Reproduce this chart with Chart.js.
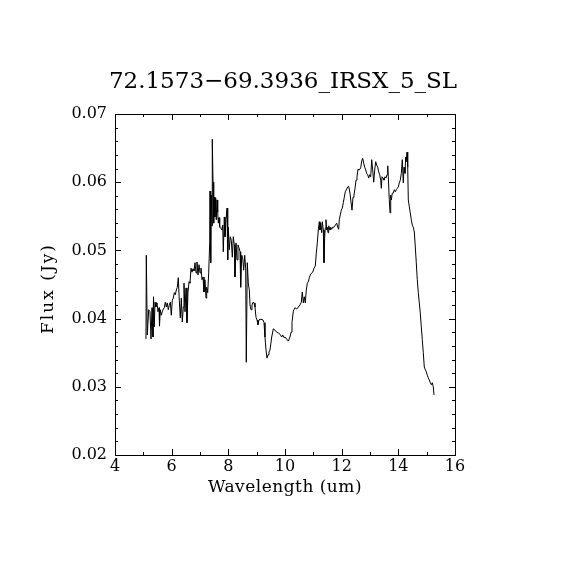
<!DOCTYPE html>
<html>
<head>
<meta charset="utf-8">
<script src="https://cdn.jsdelivr.net/npm/chart.js@4"></script>
<style>
  html, body { margin: 0; padding: 0; background: #fff; }
  #wrap { width: 570px; height: 570px; }
</style>
</head>
<body>
<div id="wrap"><canvas id="spec" width="570" height="570"></canvas></div>
<script>
// IRS SL spectrum
const titleText = '72.1573\u221269.3936_IRSX_5_SL';
const xLabel = 'Wavelength (um)';
const yLabel = 'Flux (Jy)';

const xTicks = [4, 6, 8, 10, 12, 14, 16];
const yTicks = [0.02, 0.03, 0.04, 0.05, 0.06, 0.07];

const wavelength = [
  5.094, 5.105, 5.140, 5.189, 5.235, 5.271, 5.306, 5.341, 5.359, 5.387, 5.412, 5.447, 5.482, 5.518, 5.553, 5.571,
  5.599, 5.634, 5.669, 5.705, 5.740, 5.775, 5.811, 5.846, 5.881, 5.916, 5.952, 5.987, 6.022, 6.058, 6.093, 6.128,
  6.164, 6.199, 6.234, 6.269, 6.305, 6.340, 6.375, 6.411, 6.435, 6.471, 6.506, 6.541, 6.576, 6.612, 6.647, 6.682,
  6.718, 6.753, 6.788, 6.824, 6.859, 6.894, 6.929, 6.965, 7.000, 7.035, 7.071, 7.106, 7.141, 7.176, 7.212, 7.236,
  7.272, 7.307, 7.342,
  7.353, 7.378, 7.399, 7.424, 7.434, 7.459, 7.484, 7.505, 7.529, 7.554, 7.575, 7.600, 7.625, 7.646, 7.671, 7.695,
  7.731, 7.766, 7.801, 7.822, 7.858, 7.882, 7.918, 7.953, 7.978, 7.999, 8.034, 8.069, 8.105, 8.140, 8.175, 8.211,
  8.235, 8.271, 8.306, 8.341, 8.376, 8.412, 8.436, 8.472, 8.507, 8.542, 8.578, 8.613, 8.634, 8.669, 8.705, 8.740,
  8.765, 8.800, 8.835, 8.871, 8.906, 8.941, 8.976, 9.012, 9.047, 9.082, 9.118, 9.153, 9.188, 9.224, 9.259, 9.294,
  9.329, 9.365, 9.400, 9.435, 9.471,
  9.531, 9.587, 9.647, 9.707, 9.764, 9.824, 9.883, 9.919, 9.965, 10.000, 10.060, 10.116, 10.176, 10.212, 10.247, 10.293,
  10.353, 10.413, 10.469, 10.529, 10.575, 10.611, 10.646, 10.681, 10.716, 10.752, 10.787, 10.822, 10.858, 10.893, 10.942, 10.978,
  11.024, 11.069, 11.105, 11.140, 11.175, 11.211, 11.235, 11.260, 11.295, 11.316, 11.352, 11.376, 11.401, 11.422, 11.447, 11.472,
  11.493, 11.518, 11.542, 11.564, 11.588, 11.613, 11.648, 11.684, 11.729, 11.775, 11.825, 11.860, 11.895, 11.916, 11.952, 11.987,
  12.022, 12.058, 12.093, 12.128, 12.178, 12.213, 12.248, 12.294, 12.329, 12.365, 12.400, 12.435, 12.471, 12.506, 12.541, 12.576,
  12.622, 12.672, 12.707, 12.742, 12.778, 12.813, 12.848, 12.884, 12.919, 12.954, 12.989, 13.025, 13.060, 13.095, 13.131, 13.166,
  13.201, 13.236, 13.272, 13.307, 13.342, 13.378, 13.399, 13.424, 13.459, 13.494, 13.529, 13.565, 13.600, 13.625, 13.646, 13.681,
  13.706, 13.731, 13.752, 13.787, 13.822, 13.858, 13.893, 13.928, 13.964, 13.999, 14.034, 14.069, 14.105, 14.140, 14.175, 14.200,
  14.235, 14.260, 14.281, 14.306, 14.331, 14.352, 14.387, 14.422, 14.458, 14.493, 14.528, 14.564, 14.599, 14.634, 14.669, 14.705,
  14.740, 14.775, 14.811, 14.846, 14.881, 14.916, 14.952, 14.987, 15.022, 15.058, 15.093, 15.128, 15.164, 15.199, 15.234, 15.259
];

const flux = [
  0.0370, 0.0493, 0.0376, 0.0413, 0.0410, 0.0370, 0.0416, 0.0373, 0.0432, 0.0388, 0.0424, 0.0417, 0.0423, 0.0410, 0.0416, 0.0389,
  0.0413, 0.0405, 0.0410, 0.0414, 0.0416, 0.0424, 0.0417, 0.0423, 0.0413, 0.0420, 0.0424, 0.0405, 0.0427, 0.0430, 0.0438, 0.0435,
  0.0442, 0.0446, 0.0460, 0.0427, 0.0401, 0.0430, 0.0395, 0.0417, 0.0452, 0.0410, 0.0445, 0.0394, 0.0438, 0.0454, 0.0452, 0.0474,
  0.0468, 0.0473, 0.0470, 0.0482, 0.0467, 0.0483, 0.0464, 0.0479, 0.0467, 0.0474, 0.0457, 0.0461, 0.0439, 0.0457, 0.0430, 0.0446,
  0.0438, 0.0467, 0.0511,
  0.0587, 0.0482, 0.0581, 0.0536, 0.0663, 0.0600, 0.0540, 0.0578, 0.0549, 0.0577, 0.0545, 0.0574, 0.0556, 0.0540, 0.0548, 0.0534,
  0.0533, 0.0530, 0.0537, 0.0498, 0.0549, 0.0520, 0.0545, 0.0562, 0.0486, 0.0534, 0.0501, 0.0520, 0.0515, 0.0490, 0.0520, 0.0508,
  0.0461, 0.0511, 0.0486, 0.0508, 0.0504, 0.0498, 0.0446, 0.0493, 0.0489, 0.0471, 0.0493, 0.0474, 0.0336, 0.0482, 0.0452, 0.0442,
  0.0420, 0.0413, 0.0420, 0.0424, 0.0423, 0.0417, 0.0402, 0.0398, 0.0391, 0.0398, 0.0399, 0.0399, 0.0399, 0.0398, 0.0394, 0.0373,
  0.0354, 0.0342, 0.0347, 0.0351, 0.0354,
  0.0373, 0.0385, 0.0383, 0.0380, 0.0379, 0.0377, 0.0373, 0.0376, 0.0372, 0.0373, 0.0370, 0.0367, 0.0373, 0.0380, 0.0394, 0.0411,
  0.0416, 0.0414, 0.0417, 0.0420, 0.0424, 0.0439, 0.0423, 0.0432, 0.0423, 0.0442, 0.0452, 0.0454, 0.0460, 0.0464, 0.0467, 0.0468,
  0.0474, 0.0477, 0.0496, 0.0511, 0.0530, 0.0542, 0.0530, 0.0540, 0.0526, 0.0542, 0.0530, 0.0482, 0.0520, 0.0533, 0.0545, 0.0530,
  0.0534, 0.0526, 0.0536, 0.0533, 0.0530, 0.0534, 0.0531, 0.0534, 0.0534, 0.0537, 0.0540, 0.0534, 0.0531, 0.0545, 0.0552, 0.0559,
  0.0562, 0.0570, 0.0578, 0.0586, 0.0590, 0.0593, 0.0594, 0.0584, 0.0571, 0.0559, 0.0578, 0.0581, 0.0591, 0.0603, 0.0608, 0.0619,
  0.0618, 0.0621, 0.0631, 0.0635, 0.0628, 0.0622, 0.0618, 0.0613, 0.0611, 0.0606, 0.0611, 0.0608, 0.0633, 0.0618, 0.0600, 0.0618,
  0.0630, 0.0625, 0.0622, 0.0615, 0.0611, 0.0603, 0.0591, 0.0608, 0.0606, 0.0603, 0.0608, 0.0606, 0.0611, 0.0624, 0.0608, 0.0574,
  0.0555, 0.0581, 0.0574, 0.0584, 0.0584, 0.0589, 0.0586, 0.0589, 0.0591, 0.0593, 0.0599, 0.0603, 0.0613, 0.0633, 0.0599, 0.0622,
  0.0613, 0.0637, 0.0630, 0.0644, 0.0622, 0.0574, 0.0564, 0.0555, 0.0545, 0.0537, 0.0534, 0.0527, 0.0505, 0.0482, 0.0457, 0.0438,
  0.0423, 0.0408, 0.0388, 0.0369, 0.0350, 0.0329, 0.0325, 0.0322, 0.0317, 0.0313, 0.0310, 0.0306, 0.0303, 0.0306, 0.0300, 0.0288
];

const FONT = 'DejaVu Serif';

// box + inward ticks on all four sides, plus title and axis captions
const idlFrame = {
  id: 'idlFrame',
  afterDatasetsDraw(chart) {
    const { ctx, chartArea: a, scales: { x, y } } = chart;
    ctx.save();
    ctx.strokeStyle = '#000';
    ctx.lineWidth = 1;
    ctx.strokeRect(a.left + 0.5, a.top + 0.5, a.right - a.left, a.bottom - a.top);

    ctx.beginPath();
    for (let v = xTicks[0]; v <= xTicks[xTicks.length - 1] + 1e-9; v += 1) {
      const px = Math.round(x.getPixelForValue(v)) + 0.5;
      const len = xTicks.includes(v) ? 6 : 3;
      ctx.moveTo(px, a.bottom); ctx.lineTo(px, a.bottom - len);
      ctx.moveTo(px, a.top); ctx.lineTo(px, a.top + len);
    }
    for (let i = 0; i <= 25; i++) {
      const v = yTicks[0] + i * 0.002;
      const py = Math.round(y.getPixelForValue(v)) + 0.5;
      const len = i % 5 === 0 ? 6 : 3;
      ctx.moveTo(a.left, py); ctx.lineTo(a.left + len, py);
      ctx.moveTo(a.right, py); ctx.lineTo(a.right - len, py);
    }
    ctx.stroke();

    ctx.fillStyle = '#000';
    ctx.textAlign = 'center';
    ctx.textBaseline = 'alphabetic';
    ctx.font = `23px "${FONT}"`;
    ctx.fillText(titleText, (a.left + a.right) / 2 - 2, 88);

    ctx.font = `17px "${FONT}"`;
    ctx.letterSpacing = '0.5px';
    ctx.fillText(xLabel, (a.left + a.right) / 2, 492);

    ctx.letterSpacing = '2px';
    ctx.translate(53, (a.top + a.bottom) / 2 + 4);
    ctx.rotate(-Math.PI / 2);
    ctx.fillText(yLabel, 0, 0);
    ctx.restore();
  }
};

const points = wavelength.map((w, i) => ({ x: w, y: flux[i] }));

new Chart(document.getElementById('spec'), {
  type: 'line',
  data: {
    datasets: [{
      data: points,
      borderColor: '#000',
      borderWidth: 1,
      pointRadius: 0,
      tension: 0,
      fill: false
    }]
  },
  options: {
    responsive: false,
    animation: false,
    devicePixelRatio: 1,
    layout: { padding: { top: 114, right: 115, left: 0, bottom: 0 } },
    plugins: { legend: { display: false }, tooltip: { enabled: false }, title: { display: false } },
    scales: {
      x: {
        type: 'linear',
        min: 4, max: 16,
        afterBuildTicks: s => { s.ticks = xTicks.map(v => ({ value: v })); },
        afterFit: s => { s.height = 115; },
        grid: { display: false, drawTicks: false },
        border: { display: false },
        ticks: { color: '#000', padding: 2, font: { family: FONT, size: 16 }, callback: v => String(v) }
      },
      y: {
        min: 0.02, max: 0.07,
        afterBuildTicks: s => { s.ticks = yTicks.map(v => ({ value: v })); },
        afterFit: s => { s.width = 115; },
        grid: { display: false, drawTicks: false },
        border: { display: false },
        ticks: { color: '#000', padding: 8, font: { family: FONT, size: 16 }, callback: v => v.toFixed(2) }
      }
    }
  },
  plugins: [idlFrame]
});
</script>
</body>
</html>
